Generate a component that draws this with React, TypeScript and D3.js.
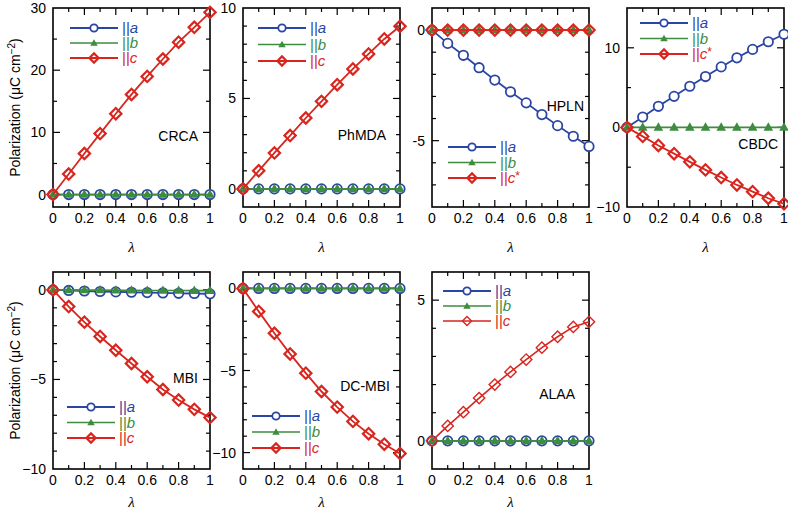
import React from "react";
import * as d3 from "d3";

// lambda grid shared by all panels
const lambda = [0, 0.1, 0.2, 0.3, 0.4, 0.5, 0.6, 0.7, 0.8, 0.9, 1];
const xTickLabels = ["0", "0.2", "0.4", "0.6", "0.8", "1"];
const xTickValues = [0, 0.2, 0.4, 0.6, 0.8, 1];

// CRCA
const crcaA = [0, 0, 0, 0, 0, 0, 0, 0, 0, 0, 0];
const crcaB = [0, 0, 0, 0, 0, 0, 0, 0, 0, 0, 0];
const crcaC = [0, 3.3, 6.6, 9.8, 13.0, 16.1, 19.0, 21.8, 24.5, 26.9, 29.3];
const crcaTicks = [0, 10, 20, 30];

// PhMDA
const phmdaA = [0, 0, 0, 0, 0, 0, 0, 0, 0, 0, 0];
const phmdaB = [0, 0, 0, 0, 0, 0, 0, 0, 0, 0, 0];
const phmdaC = [0, 1.0, 1.99, 2.95, 3.92, 4.84, 5.76, 6.63, 7.46, 8.29, 8.99];
const phmdaTicks = [0, 5, 10];

// HPLN
const hplnA = [0, -0.6, -1.14, -1.7, -2.26, -2.79, -3.29, -3.82, -4.32, -4.8, -5.26];
const hplnB = [0, 0, 0, 0, 0, 0, 0, 0, 0, 0, 0];
const hplnC = [0, 0, 0, 0, 0, 0, 0, 0, 0, 0, 0];
const hplnTicks = [-5, 0];

// CBDC
const cbdcA = [0, 1.3, 2.65, 3.9, 5.17, 6.39, 7.6, 8.74, 9.8, 10.76, 11.7];
const cbdcB = [0, 0, 0, 0, 0, 0, 0, 0, 0, 0, 0];
const cbdcC = [0, -1.13, -2.27, -3.3, -4.33, -5.34, -6.3, -7.23, -8.07, -8.9, -9.6];
const cbdcTicks = [-10, 0, 10];

// MBI
const mbiA = [0, -0.03, -0.06, -0.09, -0.11, -0.13, -0.15, -0.17, -0.19, -0.2, -0.22];
const mbiB = [0, 0, -0.01, -0.01, -0.02, -0.02, -0.03, -0.03, -0.03, -0.04, -0.04];
const mbiC = [0, -0.93, -1.8, -2.6, -3.37, -4.11, -4.85, -5.56, -6.15, -6.67, -7.13];
const mbiTicks = [-10, -5, 0];

// DC-MBI
const dcmbiA = [0, 0, 0, 0, 0, 0, 0, 0, 0, 0, 0];
const dcmbiB = [0, 0, 0, 0, 0, 0, 0, 0, 0, 0, 0];
const dcmbiC = [0, -1.4, -2.73, -3.99, -5.16, -6.28, -7.23, -8.1, -8.85, -9.49, -10.06];
const dcmbiTicks = [-10, -5, 0];

// ALAA
const alaaA = [0, 0, 0, 0, 0, 0, 0, 0, 0, 0, 0];
const alaaB = [0, 0, 0, 0, 0, 0, 0, 0, 0, 0, 0];
const alaaC = [0, 0.53, 1.02, 1.52, 2.0, 2.45, 2.89, 3.31, 3.7, 4.05, 4.23];
const alaaTicks = [0, 5];

const BLUE = "#2a45a2";
const GREEN = "#3d8c3f";
const RED = "#d8261f";
const FONT = "'Liberation Sans', Arial, Helvetica, sans-serif";

const colLeft = [53, 243, 432, 627];
const rowTop = [8, 272];
const rowBottom = [207, 469];
const lambdaOffset = [45, 38];
const boxW = 157;

const panels = [
  { name: "CRCA", a: crcaA, b: crcaB, c: crcaC, star: false, yDomain: [-2, 30], ticks: crcaTicks, minor: 5, hyphen: false, col: 0, row: 0, leg: [17, 28, 15], lab: [12, 136], thin: false },
  { name: "PhMDA", a: phmdaA, b: phmdaB, c: phmdaC, star: false, yDomain: [-1, 10], ticks: phmdaTicks, minor: 1, hyphen: false, col: 1, row: 0, leg: [15, 28, 16.5], lab: [14, 135], thin: false },
  { name: "HPLN", a: hplnA, b: hplnB, c: hplnC, star: true, yDomain: [-8, 1], ticks: hplnTicks, minor: 1, hyphen: true, col: 2, row: 0, leg: [16, 147, 15.5], lab: [5, 106], thin: false },
  { name: "CBDC", a: cbdcA, b: cbdcB, c: cbdcC, star: true, yDomain: [-10, 15], ticks: cbdcTicks, minor: 5, hyphen: false, col: 3, row: 0, leg: [13, 23, 15.5], lab: [6, 144], thin: false },
  { name: "MBI", a: mbiA, b: mbiB, c: mbiC, star: false, yDomain: [-10, 1], ticks: mbiTicks, minor: 1, hyphen: false, col: 0, row: 1, leg: [14, 407, 15.5], lab: [12, 378], thin: false },
  { name: "DC-MBI", a: dcmbiA, b: dcmbiB, c: dcmbiC, star: false, yDomain: [-11, 1], ticks: dcmbiTicks, minor: 1, hyphen: false, col: 1, row: 1, leg: [9, 416, 16], lab: [10, 386], thin: false },
  { name: "ALAA", a: alaaA, b: alaaB, c: alaaC, star: false, yDomain: [-1, 6], ticks: alaaTicks, minor: 1, hyphen: false, col: 2, row: 1, leg: [11, 291, 15], lab: [14, 394], thin: true },
];

const triPath = d3.symbol().type(d3.symbolTriangle).size(40)();
const triSmall = d3.symbol().type(d3.symbolTriangle).size(24)();
const diaPath = d3.symbol().type(d3.symbolSquare).size(64)();
const diaSmall = d3.symbol().type(d3.symbolSquare).size(42)();

function Marker({ kind, x, y, small, thin }) {
  if (kind === "a")
    return <circle cx={x} cy={y} r={small ? 3.7 : 4.7} fill="white" stroke={BLUE} strokeWidth={1.8} />;
  if (kind === "b")
    return <path d={small ? triSmall : triPath} transform={`translate(${x},${y + 0.5})`} fill={GREEN} />;
  return (
    <path
      d={small ? diaSmall : diaPath}
      transform={`translate(${x},${y}) rotate(45)`}
      fill="none"
      stroke={RED}
      strokeWidth={thin ? 1.4 : 2.2}
    />
  );
}

function Panel({ p }) {
  const x0 = colLeft[p.col];
  const x1 = x0 + boxW;
  const y0 = rowTop[p.row];
  const y1 = rowBottom[p.row];
  const x = d3.scaleLinear().domain([0, 1]).range([x0, x1]);
  const y = d3.scaleLinear().domain(p.yDomain).range([y1, y0]);
  const line = d3.line<number>().x((_, i) => x(lambda[i])).y((d) => y(d));

  const xMinor = d3.range(1, 10).map((i) => i / 10);
  const yMinor = d3
    .range(Math.ceil(p.yDomain[0] / p.minor) * p.minor, p.yDomain[1] + 1e-9, p.minor)
    .filter((v) => v > p.yDomain[0] && v < p.yDomain[1]);
  const isMajorX = (v) => Math.abs(v * 5 - Math.round(v * 5)) < 1e-6;
  const isMajorY = (v) => p.ticks.includes(v);

  const fmt = (v) => (v < 0 ? (p.hyphen ? "-" : "\u2212") + Math.abs(v) : String(v));

  const series = [
    { key: "a", vals: p.a, color: BLUE, lw: 1.8 },
    { key: "b", vals: p.b, color: GREEN, lw: 1.6 },
    { key: "c", vals: p.c, color: RED, lw: p.thin ? 1.6 : 1.8 },
  ];

  const [lx, ly, ldy] = p.leg;
  const legX = x0 + lx;

  return (
    <g>
      <defs>
        <clipPath id={`clip-${p.name}`}>
          <rect x={x0 - 8} y={y0 - 8} width={boxW + 16} height={y1 - y0 + 16} />
        </clipPath>
      </defs>
      {/* ticks */}
      {xMinor.map((v) => {
        const len = isMajorX(v) ? 7 : 4;
        return (
          <g key={"xt" + v} stroke="black" strokeWidth={1.2}>
            <line x1={x(v)} x2={x(v)} y1={y1} y2={y1 - len} />
            <line x1={x(v)} x2={x(v)} y1={y0} y2={y0 + len} />
          </g>
        );
      })}
      {yMinor.map((v) => {
        const len = isMajorY(v) ? 7 : 4;
        return (
          <g key={"yt" + v} stroke="black" strokeWidth={1.2}>
            <line x1={x0} x2={x0 + len} y1={y(v)} y2={y(v)} />
            <line x1={x1} x2={x1 - len} y1={y(v)} y2={y(v)} />
          </g>
        );
      })}
      <rect x={x0} y={y0} width={boxW} height={y1 - y0} fill="none" stroke="black" strokeWidth={1.6} />
      {/* tick labels */}
      {xTickValues.map((v, i) => (
        <text key={"xl" + v} x={x(v)} y={y1 + 16} textAnchor="middle" fontSize={14} fontFamily={FONT}>
          {xTickLabels[i]}
        </text>
      ))}
      {p.ticks.map((v) => (
        <text key={"yl" + v} x={x0 - 7} y={y(v) + 5} textAnchor="end" fontSize={14} fontFamily={FONT}>
          {fmt(v)}
        </text>
      ))}
      <text
        x={(x0 + x1) / 2}
        y={y1 + lambdaOffset[p.row]}
        textAnchor="middle"
        fontSize={15}
        fontStyle="italic"
        fontFamily="'Liberation Serif', 'Times New Roman', serif"
      >
        λ
      </text>
      {/* series */}
      <g clipPath={`url(#clip-${p.name})`}>
        {series.map((s) => (
          <g key={s.key}>
            <path d={line(s.vals)} fill="none" stroke={s.color} strokeWidth={s.lw} />
            {s.vals.map((v, i) => (
              <Marker key={i} kind={s.key} x={x(lambda[i])} y={y(v)} thin={p.thin} />
            ))}
          </g>
        ))}
      </g>
      {/* panel label */}
      <text x={x1 - p.lab[0]} y={p.lab[1] + 5} textAnchor="end" fontSize={14} fontFamily={FONT}>
        {p.name}
      </text>
      {/* legend */}
      {series.map((s, i) => {
        const yy = ly + i * ldy;
        return (
          <g key={"lg" + s.key}>
            <line x1={legX} x2={legX + 48} y1={yy} y2={yy} stroke={s.color} strokeWidth={s.lw} />
            <Marker kind={s.key} x={legX + 24} y={yy} small thin={p.thin} />
            <text x={legX + 52} y={yy + 5} fontSize={15} fontFamily={FONT} fill={s.color}>
              {"||"}
              <tspan fontStyle="italic">{s.key}</tspan>
              {s.key === "c" && p.star ? <tspan fontSize={12} dy={-3}>*</tspan> : null}
            </text>
          </g>
        );
      })}
    </g>
  );
}

export default function App() {
  return (
    <svg width={788} height={513} style={{ position: "absolute", left: 0, top: 0, background: "white" }}>
      {rowTop.map((t, r) => (
        <text
          key={"yl" + r}
          transform={`translate(20,${(t + rowBottom[r]) / 2}) rotate(-90)`}
          textAnchor="middle"
          fontSize={14}
          fontFamily={FONT}
        >
          Polarization (μC cm<tspan fontSize={10} dy={-5}>−2</tspan>
          <tspan dy={5}>)</tspan>
        </text>
      ))}
      {panels.map((p) => (
        <Panel key={p.name} p={p} />
      ))}
    </svg>
  );
}
